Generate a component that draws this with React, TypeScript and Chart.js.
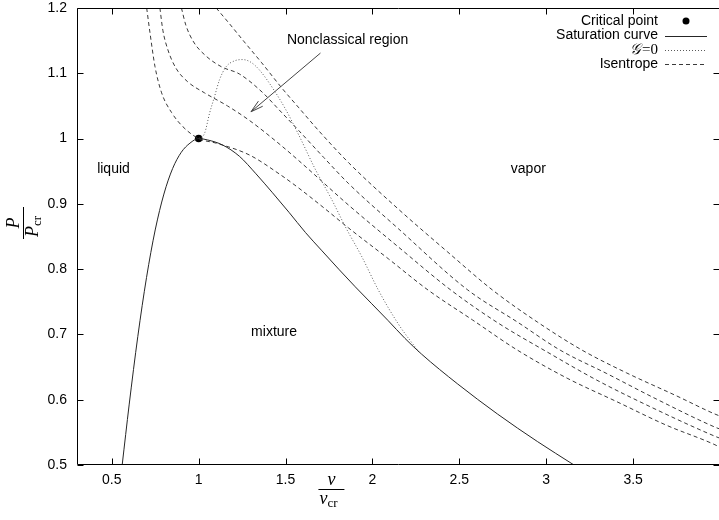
import React, { useEffect, useRef } from "react";
import { Chart, registerables } from "chart.js";

Chart.register(...registerables);

// ---------- data ----------
const xTicks = [0.5, 1, 1.5, 2, 2.5, 3, 3.5];
const yTicks = [0.5, 0.6, 0.7, 0.8, 0.9, 1, 1.1, 1.2];

const criticalX = [1.0];
const criticalY = [1.0];

const saturationX = [0.56, 0.6, 0.65, 0.7, 0.75, 0.8, 0.85, 0.9, 0.95, 1.0, 1.05, 1.139, 1.234, 1.33, 1.425, 1.52, 1.615, 1.71, 1.806, 1.901, 1.996, 2.091, 2.187, 2.282, 2.491, 2.72, 2.949, 3.16];
const saturationY = [0.5, 0.592, 0.697, 0.787, 0.86, 0.915, 0.954, 0.979, 0.993, 1.0, 0.998, 0.99, 0.973, 0.946, 0.917, 0.887, 0.856, 0.828, 0.8, 0.773, 0.747, 0.721, 0.694, 0.67, 0.624, 0.578, 0.536, 0.5];

const gZeroX = [1.0, 1.034, 1.063, 1.091, 1.12, 1.158, 1.206, 1.253, 1.3, 1.35, 1.434, 1.5, 1.577, 1.673, 1.767, 1.844, 1.939, 2.034, 2.149, 2.27];
const gZeroY = [1.0, 1.008, 1.039, 1.064, 1.09, 1.11, 1.119, 1.121, 1.117, 1.105, 1.074, 1.045, 1.005, 0.952, 0.906, 0.865, 0.819, 0.768, 0.716, 0.672];

const isentrope1X = [0.701, 0.72, 0.749, 0.787, 0.844, 0.91, 1.0, 1.101, 1.291, 1.463, 1.577, 1.72, 1.863, 2.091, 2.32, 2.577, 2.834, 3.12, 3.406, 3.691, 3.971, 4.0];
const isentrope1Y = [1.2, 1.162, 1.11, 1.07, 1.04, 1.018, 1.0, 0.993, 0.975, 0.946, 0.924, 0.894, 0.863, 0.816, 0.768, 0.722, 0.676, 0.633, 0.597, 0.561, 0.531, 0.527];

const isentrope2X = [0.777, 0.794, 0.823, 0.869, 0.937, 1.034, 1.166, 1.291, 1.463, 1.577, 1.863, 2.149, 2.451, 2.72, 3.006, 3.291, 3.577, 3.971, 4.0];
const isentrope2Y = [1.2, 1.166, 1.136, 1.108, 1.087, 1.07, 1.05, 1.028, 0.992, 0.966, 0.898, 0.834, 0.768, 0.718, 0.673, 0.63, 0.592, 0.544, 0.541];

const isentrope3X = [0.901, 0.926, 0.971, 1.04, 1.131, 1.234, 1.366, 1.463, 1.577, 1.72, 1.863, 2.149, 2.549, 2.834, 3.08, 3.349, 3.634, 3.971, 4.0];
const isentrope3Y = [1.2, 1.174, 1.148, 1.127, 1.11, 1.099, 1.071, 1.044, 1.012, 0.971, 0.931, 0.862, 0.768, 0.719, 0.676, 0.64, 0.601, 0.558, 0.555];

const isentrope4X = [1.101, 1.177, 1.263, 1.36, 1.48, 1.577, 1.691, 1.863, 2.149, 2.434, 2.691, 2.949, 3.206, 3.463, 3.749, 3.971, 4.0];
const isentrope4Y = [1.2, 1.176, 1.148, 1.117, 1.077, 1.047, 1.012, 0.963, 0.892, 0.826, 0.768, 0.719, 0.676, 0.641, 0.606, 0.578, 0.575];

const regionLabels = ["liquid", "vapor", "mixture", "Nonclassical region"];
const regionLabelX = [0.51, 2.897, 1.434, 1.857];
const regionLabelY = [0.953, 0.953, 0.704, 1.151];
const arrowFrom = [1.701, 1.131];
const arrowTo = [1.301, 1.041];

const legendLabels = ["Critical point", "Saturation curve", "\u{1D4A2}=0", "Isentrope"];

// ---------- helpers ----------
const zip = (xs: number[], ys: number[]) => xs.map((x, i) => ({ x, y: ys[i] }));

const SANS = '"Liberation Sans", Arial, Helvetica, sans-serif';
const SERIF = '"Liberation Serif", "DejaVu Serif", "Times New Roman", serif';

const LINE_SAT = "#262626";
const LINE_ISO = "#3a3a3a";
const LINE_G = "#5a5a5a";

const overlay = {
  id: "overlay",
  afterDraw(chart: any) {
    const { ctx, chartArea: a, scales } = chart;
    const xs = scales.x;
    const ys = scales.y;
    ctx.save();

    // frame
    ctx.strokeStyle = "#000";
    ctx.lineWidth = 1;
    ctx.setLineDash([]);
    const L = Math.round(a.left) + 0.5;
    const R = Math.round(a.right) - 0.5;
    const T = Math.round(a.top) + 0.5;
    const B = Math.round(a.bottom) - 0.5;
    ctx.beginPath();
    ctx.moveTo(L, T);
    ctx.lineTo(R, T);
    ctx.lineTo(R, B);
    ctx.lineTo(L, B);
    ctx.closePath();
    ctx.stroke();

    // inward ticks on all four sides
    const tl = 6;
    ctx.beginPath();
    xTicks.forEach((v) => {
      const p = Math.round(xs.getPixelForValue(v)) + 0.5;
      ctx.moveTo(p, B);
      ctx.lineTo(p, B - tl);
      ctx.moveTo(p, T);
      ctx.lineTo(p, T + tl);
    });
    yTicks.forEach((v) => {
      const p = Math.round(ys.getPixelForValue(v)) + 0.5;
      ctx.moveTo(L, p);
      ctx.lineTo(L + tl, p);
      ctx.moveTo(R, p);
      ctx.lineTo(R - tl, p);
    });
    ctx.stroke();

    // region labels
    ctx.fillStyle = "#000";
    ctx.font = `14px ${SANS}`;
    ctx.textAlign = "center";
    ctx.textBaseline = "middle";
    regionLabels.forEach((t, i) => {
      ctx.fillText(t, xs.getPixelForValue(regionLabelX[i]), ys.getPixelForValue(regionLabelY[i]));
    });

    // arrow
    const ax0 = xs.getPixelForValue(arrowFrom[0]);
    const ay0 = ys.getPixelForValue(arrowFrom[1]);
    const ax1 = xs.getPixelForValue(arrowTo[0]);
    const ay1 = ys.getPixelForValue(arrowTo[1]);
    ctx.strokeStyle = "#444";
    ctx.beginPath();
    ctx.moveTo(ax0, ay0);
    ctx.lineTo(ax1, ay1);
    const ang = Math.atan2(ay1 - ay0, ax1 - ax0);
    const hl = 13;
    const hw = 0.26;
    ctx.moveTo(ax1 - hl * Math.cos(ang - hw), ay1 - hl * Math.sin(ang - hw));
    ctx.lineTo(ax1, ay1);
    ctx.lineTo(ax1 - hl * Math.cos(ang + hw), ay1 - hl * Math.sin(ang + hw));
    ctx.stroke();

    // legend
    const textRight = 658;
    const sx0 = 665;
    const sx1 = 707;
    const rows = [21, 35.5, 50, 64];
    ctx.textAlign = "right";
    ctx.textBaseline = "middle";
    legendLabels.forEach((t, i) => {
      if (i === 2) {
        const g = "\u{1D4A2}";
        const rest = "=0";
        ctx.font = `15px ${SERIF}`;
        const wRest = ctx.measureText(rest).width;
        ctx.fillText(rest, textRight, rows[i]);
        ctx.font = `italic 15px ${SERIF}`;
        ctx.fillText(g, textRight - wRest - 1, rows[i]);
      } else {
        ctx.font = `14px ${SANS}`;
        ctx.fillText(t, textRight, rows[i]);
      }
    });
    // samples
    ctx.fillStyle = "#000";
    ctx.beginPath();
    ctx.arc((sx0 + sx1) / 2, rows[0], 3.5, 0, Math.PI * 2);
    ctx.fill();
    ctx.lineWidth = 1;
    ctx.strokeStyle = LINE_SAT;
    ctx.setLineDash([]);
    ctx.beginPath();
    ctx.moveTo(sx0, Math.round(rows[1]) + 0.5);
    ctx.lineTo(sx1, Math.round(rows[1]) + 0.5);
    ctx.stroke();
    ctx.strokeStyle = LINE_G;
    ctx.setLineDash([1, 2]);
    ctx.beginPath();
    ctx.moveTo(sx0, rows[2] + 0.5);
    ctx.lineTo(sx1, rows[2] + 0.5);
    ctx.stroke();
    ctx.strokeStyle = LINE_ISO;
    ctx.setLineDash([4, 3]);
    ctx.beginPath();
    ctx.moveTo(sx0, rows[3] + 0.5);
    ctx.lineTo(sx1, rows[3] + 0.5);
    ctx.stroke();
    ctx.setLineDash([]);

    // y title: P / P_cr rotated
    ctx.save();
    ctx.translate(23, 223);
    ctx.rotate(-Math.PI / 2);
    ctx.fillStyle = "#000";
    ctx.strokeStyle = "#000";
    ctx.textBaseline = "alphabetic";
    ctx.font = `italic 18px ${SERIF}`;
    ctx.textAlign = "center";
    ctx.fillText("P", 0, -4);
    ctx.beginPath();
    ctx.moveTo(-16, 0.5);
    ctx.lineTo(16, 0.5);
    ctx.stroke();
    ctx.textAlign = "left";
    ctx.fillText("P", -14, 15);
    const pw = ctx.measureText("P").width;
    ctx.font = `13px ${SERIF}`;
    ctx.fillText("cr", -14 + pw, 18);
    ctx.restore();

    // x title: v / v_cr
    const cx = xs.getPixelForValue(2) - 41;
    ctx.fillStyle = "#000";
    ctx.strokeStyle = "#000";
    ctx.textBaseline = "alphabetic";
    ctx.font = `italic 18px ${SERIF}`;
    ctx.textAlign = "center";
    ctx.fillText("v", cx, 485);
    ctx.beginPath();
    ctx.moveTo(cx - 13, 489.5);
    ctx.lineTo(cx + 13, 489.5);
    ctx.stroke();
    ctx.textAlign = "left";
    const vw = ctx.measureText("v").width;
    ctx.fillText("v", cx - 12, 504);
    ctx.font = `13px ${SERIF}`;
    ctx.fillText("cr", cx - 12 + vw, 507);

    ctx.restore();
  },
};

export default function App() {
  const ref = useRef<HTMLCanvasElement | null>(null);

  useEffect(() => {
    if (!ref.current) return;
    const lineDs = (label: string, xs: number[], ys: number[], color: string, dash: number[]) => ({
      label,
      data: zip(xs, ys),
      showLine: true,
      borderColor: color,
      backgroundColor: color,
      borderWidth: 1,
      borderDash: dash,
      pointRadius: 0,
      pointHoverRadius: 0,
      cubicInterpolationMode: "monotone",
      fill: false,
    });
    const chart = new Chart(ref.current, {
      type: "scatter",
      data: {
        datasets: [
          lineDs("Saturation curve", saturationX, saturationY, LINE_SAT, []),
          lineDs("G=0", gZeroX, gZeroY, LINE_G, [1, 2]),
          lineDs("Isentrope", isentrope1X, isentrope1Y, LINE_ISO, [4, 3]),
          lineDs("Isentrope 2", isentrope2X, isentrope2Y, LINE_ISO, [4, 3]),
          lineDs("Isentrope 3", isentrope3X, isentrope3Y, LINE_ISO, [4, 3]),
          lineDs("Isentrope 4", isentrope4X, isentrope4Y, LINE_ISO, [4, 3]),
          {
            label: "Critical point",
            data: zip(criticalX, criticalY),
            showLine: false,
            pointRadius: 3.8,
            pointBackgroundColor: "#000",
            pointBorderColor: "#000",
            pointBorderWidth: 0,
          } as any,
        ] as any,
      },
      options: {
        responsive: false,
        animation: false,
        devicePixelRatio: 1,
        events: [],
        layout: { padding: { top: 8, right: 0, left: 0, bottom: 0 } },
        plugins: {
          legend: { display: false },
          tooltip: { enabled: false },
          title: { display: false },
        },
        scales: {
          x: {
            type: "linear",
            min: 0.3,
            max: 4.0,
            grid: { display: false, drawTicks: false },
            border: { display: false },
            afterBuildTicks: (s: any) => {
              s.ticks = xTicks.map((v) => ({ value: v }));
            },
            afterFit: (s: any) => {
              s.height = 55;
              s.paddingLeft = 0;
              s.paddingRight = 0;
              s.paddingTop = 0;
              s.paddingBottom = 0;
            },
            ticks: {
              color: "#000",
              font: { family: SANS, size: 14 },
              padding: 7,
              maxRotation: 0,
              autoSkip: false,
              callback: (v: any) => String(v),
            },
          },
          y: {
            type: "linear",
            min: 0.5,
            max: 1.2,
            grid: { display: false, drawTicks: false },
            border: { display: false },
            afterBuildTicks: (s: any) => {
              s.ticks = yTicks.map((v) => ({ value: v }));
            },
            afterFit: (s: any) => {
              s.width = 77;
              s.paddingLeft = 0;
              s.paddingRight = 0;
              s.paddingTop = 0;
              s.paddingBottom = 0;
            },
            ticks: {
              color: "#000",
              font: { family: SANS, size: 14 },
              padding: 10,
              autoSkip: false,
              callback: (v: any) => String(Math.round(v * 10) / 10),
            },
          },
        },
      },
      plugins: [overlay],
    });
    return () => chart.destroy();
  }, []);

  return (
    <div
      style={{
        position: "fixed",
        left: 0,
        top: 0,
        width: 719,
        height: 520,
        overflow: "hidden",
        background: "#fff",
      }}
    >
      <canvas ref={ref} width={724} height={520} style={{ display: "block", width: 724, height: 520 }} />
    </div>
  );
}
